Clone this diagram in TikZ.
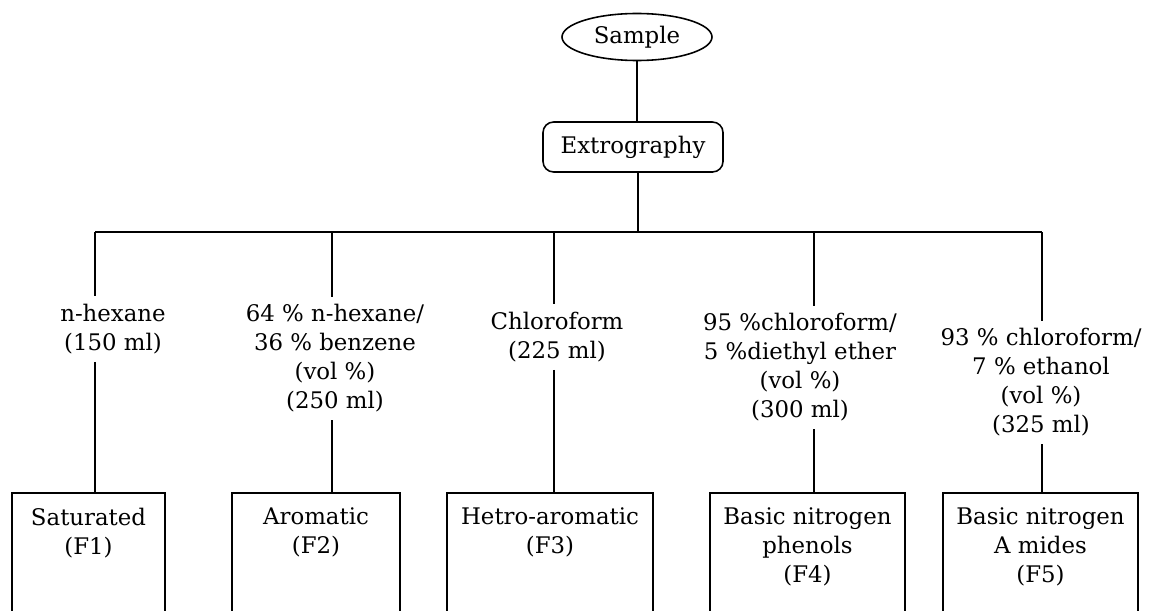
\documentclass[tikz,border=0pt]{standalone}
\usepackage{fontspec}
\setmainfont{DejaVu Serif}
\usetikzlibrary{shapes.geometric}

\begin{document}
\begin{tikzpicture}[
    line width=0.9pt,
    txt/.style={font=\fontsize{13}{16.5}\selectfont},
    start/.style={ellipse,draw,txt,minimum width=3cm,minimum height=0.94cm,inner sep=0pt},
    method/.style={rectangle,rounded corners=6pt,draw,txt,minimum width=3.6cm,minimum height=1cm},
    solvent/.style={txt,align=center,inner sep=4pt},
    frac/.style={rectangle,draw,txt,align=center,anchor=north,inner ysep=0.3cm,text depth=3cm},
  ]
  \useasboundingbox (0,0) rectangle (23.04,12.2);
  \clip (0,0) rectangle (23.04,12.2);

  % Sample and extraction step
  \node[start] (sample) at (12.74,11.46) {Sample};
  \node[method] (extro) at (12.66,9.26) {Extrography};
  \draw (sample) -- (sample |- extro.north);

  % Distribution line to the five eluents
  \coordinate (b1) at (1.9,7.56);
  \coordinate (b2) at (6.64,7.56);
  \coordinate (b3) at (11.08,7.56);
  \coordinate (b4) at (16.28,7.56);
  \coordinate (b5) at (20.84,7.56);
  \coordinate (bx) at (12.76,7.56);
  \draw (extro.south -| bx) -- (bx);
  \draw (b1) -- (b5);

  % Eluents
  \node[solvent] (sol1) at (2.26,5.62) {n-hexane\\(150 ml)};
  \node[solvent] (sol2) at (6.7,5.03) {64 \% n-hexane/\\36 \% benzene\\(vol \%)\\(250 ml)};
  \node[solvent] (sol3) at (11.14,5.46) {Chloroform\\(225 ml)};
  \node[solvent] (sol4) at (16.0,4.85) {95 \%chloroform/\\5 \%diethyl ether\\(vol \%)\\(300 ml)};
  \node[solvent] (sol5) at (20.82,4.55) {93 \% chloroform/\\7 \% ethanol\\(vol \%)\\(325 ml)};

  % Fractions F1..F5
  \node[frac,minimum width=3.06cm] (f1) at (1.77,2.36) {Saturated\\(F1)};
  \node[frac,minimum width=3.36cm] (f2) at (6.32,2.36) {Aromatic\\(F2)};
  \node[frac,minimum width=4.12cm] (f3) at (11.0,2.36) {Hetro-aromatic\\(F3)};
  \node[frac,minimum width=3.9cm] (f4) at (16.15,2.36) {Basic nitrogen\\phenols\\(F4)};
  \node[frac,minimum width=3.9cm] (f5) at (20.81,2.36) {Basic nitrogen\\A mides\\(F5)};

  \foreach \i in {1,...,5} {
    \draw (b\i) -- (b\i |- sol\i.north);
    \draw (b\i |- sol\i.south) -- (b\i |- f\i.north);
  }
\end{tikzpicture}
\end{document}
